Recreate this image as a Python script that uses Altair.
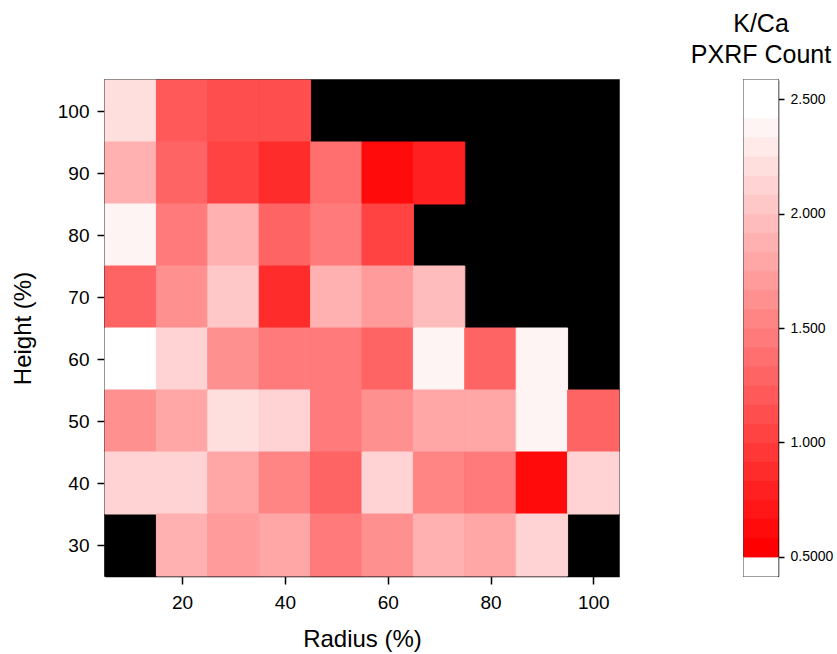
import altair as alt
import pandas as pd

# ---- data (K/Ca PXRF count by radius and height); None = no measurement (black) ----
radius = [10, 20, 30, 40, 50, 60, 70, 80, 90, 100]
heights = [100, 90, 80, 70, 60, 50, 40, 30]
row_100 = [2.22, 1.20, 1.09, 1.09, None, None, None, None, None, None]
row_90 = [1.87, 1.25, 1.01, 0.89, 1.40, 0.66, 0.77, None, None, None]
row_80 = [2.34, 1.44, 1.87, 1.32, 1.48, 1.05, None, None, None, None]
row_70 = [1.32, 1.64, 2.07, 0.85, 1.87, 1.72, 1.95, None, None, None]
row_60 = [2.60, 2.15, 1.60, 1.44, 1.44, 1.25, 2.40, 1.32, 2.34, None]
row_50 = [1.60, 1.83, 2.22, 2.15, 1.48, 1.60, 1.83, 1.75, 2.34, 1.25]
row_40 = [2.15, 2.15, 1.75, 1.52, 1.28, 2.11, 1.52, 1.44, 0.66, 2.11]
row_30 = [None, 1.87, 1.68, 1.75, 1.48, 1.60, 1.87, 1.75, 2.15, None]
rows = [row_100, row_90, row_80, row_70, row_60, row_50, row_40, row_30]

x_ticks = [20, 40, 60, 80, 100]
y_ticks = [30, 40, 50, 60, 70, 80, 90, 100]
legend_ticks = [0.5, 1.0, 1.5, 2.0, 2.5]

records = []
for h, row in zip(heights, rows):
    for r, v in zip(radius, row):
        if v is not None:
            records.append({"radius": r, "height": h, "value": v})
df = pd.DataFrame(records)

# ---- stepped red -> white colour scale ----
step = 1 / 12
thresholds = [0.5 + k * step for k in range(24)]
def _hex(g):
    return "#ff%02x%02x" % (g, g)
colors = ["#ffffff"] + [_hex(round(255 * i / 23)) for i in range(23)] + ["#ffffff"]
color_scale = alt.Scale(type="threshold", domain=thresholds, range=colors)

bounds = [0.5 - step] + thresholds + [2.5 + step]
leg_df = pd.DataFrame({
    "lo": bounds[:-1],
    "hi": bounds[1:],
})
leg_df["mid"] = (leg_df["lo"] + leg_df["hi"]) / 2

FONT = "Liberation Sans"

main = (
    alt.Chart(df)
    .mark_rect(strokeWidth=1)
    .transform_calculate(x0="datum.radius - 5", x1="datum.radius + 5",
                         y0="datum.height - 5", y1="datum.height + 5")
    .encode(
        x=alt.X("x0:Q", scale=alt.Scale(domain=[5, 105], nice=False, zero=False),
                axis=alt.Axis(values=x_ticks, title="Radius (%)", labelFontSize=19,
                              tickSize=8, labelPadding=9, titlePadding=15)),
        x2="x1:Q",
        y=alt.Y("y0:Q", scale=alt.Scale(domain=[25, 105], nice=False, zero=False),
                axis=alt.Axis(values=y_ticks, title="Height (%)", labelFontSize=19,
                              tickSize=8, labelPadding=8, titlePadding=22)),
        y2="y1:Q",
        color=alt.Color("value:Q", scale=color_scale, legend=None),
        stroke=alt.Stroke("value:Q", scale=color_scale, legend=None),
    )
    .properties(width=514, height=496)
)

legend = (
    alt.Chart(leg_df)
    .mark_rect(strokeWidth=1)
    .encode(
        x=alt.value(0),
        x2=alt.value(34),
        y=alt.Y("lo:Q", scale=alt.Scale(domain=[bounds[0], bounds[-1]], nice=False, zero=False),
                axis=alt.Axis(orient="right", values=legend_ticks, title=None,
                              labelFontSize=14, tickSize=6, labelPadding=6,
                              labelExpr="datum.value == 0.5 ? '0.5000' : format(datum.value, '.3f')")),
        y2="hi:Q",
        color=alt.Color("mid:Q", scale=color_scale, legend=None),
        stroke=alt.Stroke("mid:Q", scale=color_scale, legend=None),
    )
    .properties(
        width=34, height=496,
        title=alt.TitleParams(["K/Ca", "PXRF Count"], fontSize=25, fontWeight="normal",
                              font=FONT, color="black", anchor="middle", offset=12,
                              lineHeight=31),
    )
)

chart = (
    alt.hconcat(main, legend, spacing=69)
    .resolve_scale(color="independent", stroke="independent", y="independent")
    .properties(padding={"left": 10, "top": 10, "right": 0, "bottom": 0}, background="white")
    .configure_view(stroke="black", strokeWidth=1.5, fill="black")
    .configure_axis(
        grid=False, labelFont=FONT, titleFont=FONT, labelColor="black", titleColor="black",
        domainColor="black", tickColor="black", titleFontSize=24, titleFontWeight="normal",
        domainWidth=1.5, tickWidth=1.5,
    )
)

chart.save("out.html", embed_options={"renderer": "svg", "actions": False})
